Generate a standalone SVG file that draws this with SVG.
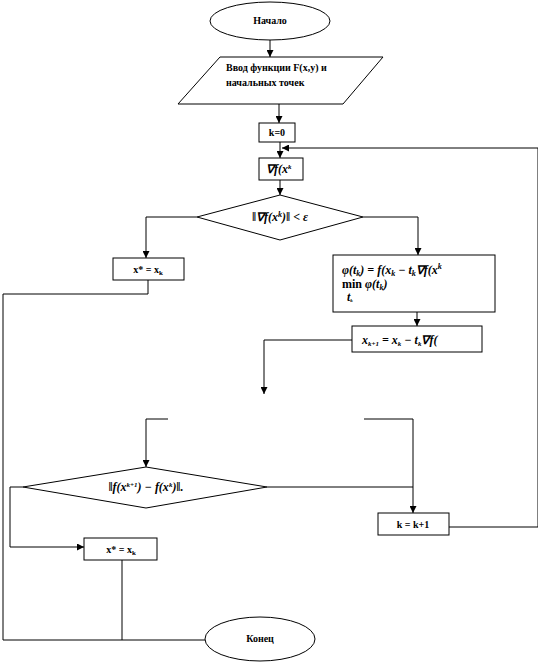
<svg xmlns="http://www.w3.org/2000/svg" width="538" height="664" viewBox="0 0 538 664">
<style>
.s{fill:#fff;stroke:#000;stroke-width:1}
.c{fill:none;stroke:#000;stroke-width:1}
.t{font-family:"Liberation Serif",serif;font-weight:bold;font-size:10px;fill:#000}
.m{font-family:"Liberation Serif",serif;font-weight:bold;font-style:italic;font-size:12px;fill:#000}
</style>
<defs>
<marker id="a" viewBox="0 0 8 8" refX="8" refY="4" markerWidth="7" markerHeight="7" orient="auto" markerUnits="userSpaceOnUse">
<path d="M0,0 L8,4 L0,8 z" fill="#000"/>
</marker>
<clipPath id="c1"><rect x="259" y="158" width="44" height="22"/></clipPath>
<clipPath id="c2"><rect x="333" y="255" width="162" height="57"/></clipPath>
<clipPath id="c3"><rect x="352" y="326" width="130" height="26"/></clipPath>
</defs>
<g id="connectors">
<path class="c" d="M270,40 V57" marker-end="url(#a)"/>
<path class="c" d="M279,104 V123" marker-end="url(#a)"/>
<path class="c" d="M280,142 V158" marker-end="url(#a)"/>
<path class="c" d="M280,180 V195" marker-end="url(#a)"/>
<path class="c" d="M197,217 H146 V258" marker-end="url(#a)"/>
<path class="c" d="M363,217 H418 V255" marker-end="url(#a)"/>
<path class="c" d="M417,312 V326" marker-end="url(#a)"/>
<path class="c" d="M148,280 V294 H3 V640 H205"/>
<path class="c" d="M352,340 H264 V394" marker-end="url(#a)"/>
<path class="c" d="M168,419 H146 V467" marker-end="url(#a)"/>
<path class="c" d="M364,419 H413 V513" marker-end="url(#a)"/>
<path class="c" d="M267,487 H413"/>
<path class="c" d="M23,487 H10 V547 H84" marker-end="url(#a)"/>
<path class="c" d="M122,560 V640"/>
<path class="c" d="M449,527 H538 V148 H282" marker-end="url(#a)"/>
</g>
<g id="start">
<ellipse class="s" cx="270" cy="21" rx="60" ry="19"/>
<text class="t" x="270" y="24" text-anchor="middle">Начало</text>
</g>
<g id="input">
<polygon class="s" points="220,57 383,57 343,104 178,104"/>
<text class="t" x="226" y="71">Ввод функции F(x,y) и</text>
<text class="t" x="226" y="86" font-size="8">начальных точек</text>
</g>
<g id="k0">
<rect class="s" x="259" y="123" width="36" height="19"/>
<text class="t" x="277" y="136" text-anchor="middle">k=0</text>
</g>
<g id="grad">
<rect class="s" x="259" y="158" width="44" height="22"/>
<g clip-path="url(#c1)"><text class="m" x="266" y="173" font-size="11">∇f(x<tspan font-size="7" dy="-4">k</tspan></text></g>
</g>
<g id="cond1">
<polygon class="s" points="280,195 363,217 280,240 197,217"/>
<text class="m" x="280" y="221" text-anchor="middle">‖∇f(x<tspan font-size="8" dy="-4">k</tspan><tspan dy="4">)‖ &lt; ε</tspan></text>
</g>
<g id="res1">
<rect class="s" x="113" y="258" width="71" height="22"/>
<text class="t" x="148" y="273" text-anchor="middle">x* = x<tspan font-size="7" dy="2">k</tspan></text>
</g>
<g id="phi">
<rect class="s" x="333" y="255" width="162" height="57"/>
<g clip-path="url(#c2)">
<text class="m" x="342" y="274" font-size="13">φ(t<tspan font-size="8" dy="2">k</tspan><tspan dy="-2">) = f(x</tspan><tspan font-size="8" dy="2">k</tspan><tspan dy="-2"> − t</tspan><tspan font-size="8" dy="2">k</tspan><tspan dy="-2">∇f(x</tspan><tspan font-size="8" dy="-5">k</tspan></text>
<text class="m" x="342" y="288" font-size="13"><tspan font-style="normal">min</tspan> φ(t<tspan font-size="8" dy="2">k</tspan><tspan dy="-2">)</tspan></text>
<text class="m" x="347" y="301" font-size="7">t<tspan font-size="5" dy="1">k</tspan></text>
</g>
</g>
<g id="next">
<rect class="s" x="352" y="326" width="130" height="26"/>
<g clip-path="url(#c3)">
<text class="m" x="362" y="344" font-size="12">x<tspan font-size="7" dy="2">k+1</tspan><tspan dy="-2"> = x</tspan><tspan font-size="7" dy="2">k</tspan><tspan dy="-2"> − t</tspan><tspan font-size="7" dy="2">k</tspan><tspan dy="-2">∇f(</tspan></text>
</g>
</g>
<g id="cond2">
<polygon class="s" points="146,467 267,487 146,508 23,487"/>
<text class="m" x="146" y="491" text-anchor="middle" font-size="11">‖f(x<tspan font-size="7" dy="-4">k+1</tspan><tspan dy="4">) − f(x</tspan><tspan font-size="7" dy="-4">k</tspan><tspan dy="4">)‖.</tspan></text>
</g>
<g id="res2">
<rect class="s" x="84" y="538" width="73" height="22"/>
<text class="t" x="121" y="553" text-anchor="middle">x* = x<tspan font-size="7" dy="2">k</tspan></text>
</g>
<g id="inc">
<rect class="s" x="378" y="513" width="71" height="22"/>
<text class="t" x="413" y="528" text-anchor="middle">k = k+1</text>
</g>
<g id="end">
<ellipse class="s" cx="260" cy="639" rx="55" ry="22"/>
<text class="t" x="260" y="642" text-anchor="middle">Конец</text>
</g>
</svg>
